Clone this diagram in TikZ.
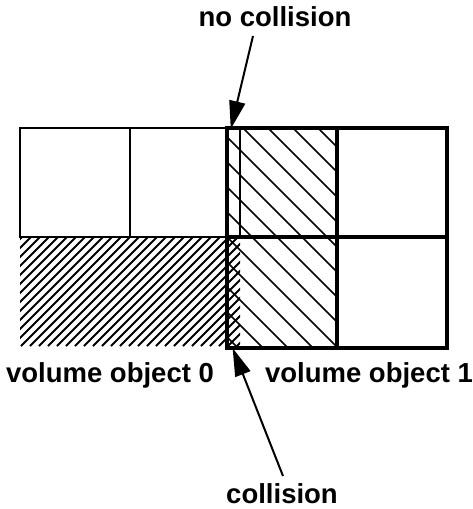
\documentclass[tikz,border=0pt]{standalone}
\usepackage{fontspec}
\setmainfont{Liberation Sans}
\usetikzlibrary{arrows.meta}
\tikzset{
  lbl/.style={font=\bfseries\fontsize{27.5}{32}\selectfont, inner sep=0pt, anchor=base},
  thinbox/.style={line width=1.5pt},
  thickbox/.style={line width=4pt, line cap=rect},
  densehatch/.style={line width=1.8pt},
  widehatch/.style={line width=1.5pt},
  pointer/.style={line width=2pt, -{Triangle[length=28pt,width=16pt]}, shorten >=-1pt}
}
\begin{document}
\begin{tikzpicture}[x=1pt,y=-1pt]
\useasboundingbox (0,0) rectangle (473,509);
% hatching of volume object 0 (bottom row)
\begin{scope}
  \clip (20,237) rectangle (240,346);
  \foreach \c in {250,259,...,600} {
    \draw[densehatch] (\c-237,237) -- (\c-346,346);
  }
\end{scope}
% hatching of volume object 1 (first column)
\begin{scope}
  \clip (227,128) rectangle (337,348);
  \foreach \k in {-6,...,8} {
    \draw[widehatch] (15+25*\k+128,128) -- (15+25*\k+348,348);
  }
\end{scope}
% volume object 0 grid (top row outlined, bottom row only hatched)
\draw[thinbox] (20,128) rectangle (240,237);
\draw[thinbox] (130,128) -- (130,237);
% volume object 1 grid
\draw[thickbox] (227,128) rectangle (447,348);
\draw[thickbox] (337,128) -- (337,348);
\draw[thickbox] (227,237) -- (447,237);
% labels
\node[lbl] (nocol) at (275,26) {no collision};
\node[lbl] (col) at (282,503) {collision};
\node[lbl] (vo0) at (110,382) {volume object 0};
\node[lbl] (vo1) at (369,382) {volume object 1};
% arrows
\coordinate (nctail) at (253,36);
\coordinate (nctip) at (231,128);
\coordinate (ctail) at (283,476);
\coordinate (ctip) at (233,349);
\draw[pointer] (nctail) -- (nctip);
\draw[pointer] (ctail) -- (ctip);
\end{tikzpicture}
\end{document}
